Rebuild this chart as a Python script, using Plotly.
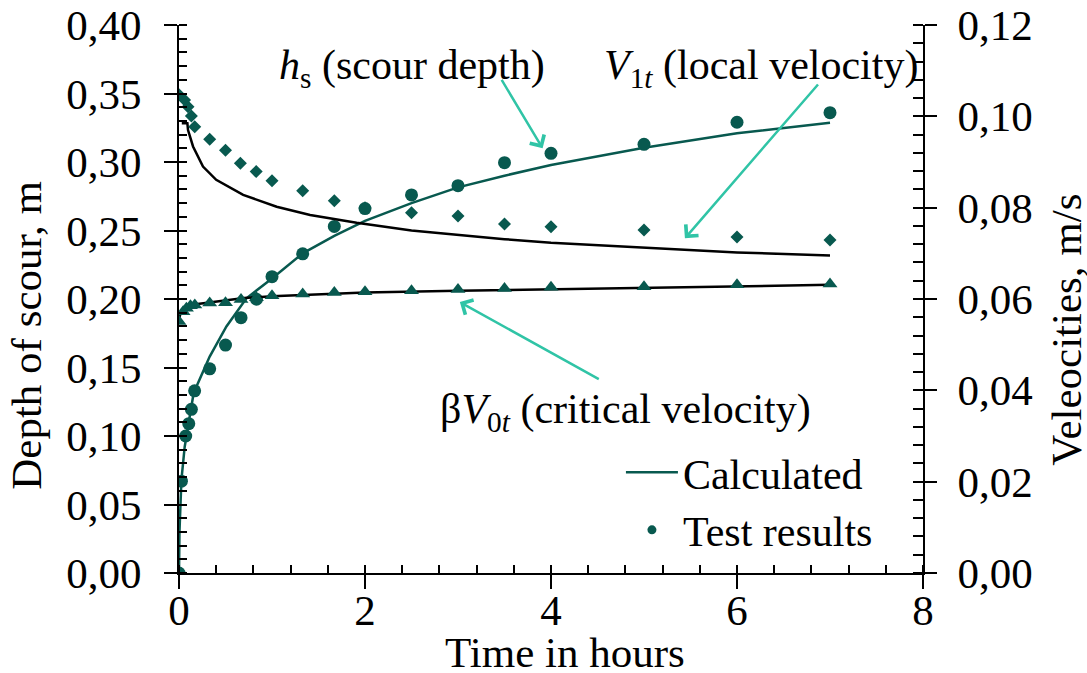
import plotly.graph_objects as go

# ---------------- data ----------------
# scour depth, test results (m)
t_hs = [0, 0.026, 0.072, 0.105, 0.133, 0.168, 0.33, 0.5, 0.667, 0.833, 1.0, 1.33, 1.67,
        2.0, 2.5, 3.0, 3.5, 4.0, 5.0, 6.0, 7.0]
hs_test = [0, 0.067, 0.100, 0.109, 0.1195, 0.133, 0.149, 0.1664, 0.1864, 0.1998, 0.2163,
           0.233, 0.253, 0.266, 0.276, 0.2827, 0.2995, 0.3063, 0.3129, 0.329, 0.336]
# scour depth, calculated (m)
t_hs_calc = [0, 0.005, 0.026, 0.061, 0.1, 0.151, 0.2, 0.33, 0.51, 0.725, 1.0, 1.33, 1.67,
             2.0, 2.5, 3.0, 3.5, 4.0, 5.0, 6.0, 7.0]
hs_calc = [0, 0.03, 0.068, 0.092, 0.108, 0.1287, 0.138, 0.158, 0.18, 0.2005, 0.215, 0.2333,
           0.246, 0.257, 0.270, 0.2815, 0.290, 0.2978, 0.3104, 0.321, 0.3287]

# local velocity, test results (m/s)
t_v1 = [0, 0.06, 0.097, 0.133, 0.169, 0.33, 0.5, 0.66, 0.83, 1.0, 1.33, 1.67, 2.0, 2.5,
        3.0, 3.5, 4.0, 5.0, 6.0, 7.0]
v1_test = [0.1047, 0.1036, 0.1021, 0.1001, 0.0977, 0.0950, 0.0926, 0.0897, 0.0879, 0.0859,
           0.0837, 0.0815, 0.0800, 0.0789, 0.0782, 0.0764, 0.0758, 0.0751, 0.0736, 0.0729]
# local velocity, calculated (m/s)
t_v1_calc = [0.03, 0.09, 0.097, 0.151, 0.258, 0.40, 0.69, 1.05, 1.41, 1.91, 2.5, 3.0, 3.5,
             4.0, 5.0, 6.0, 7.0]
v1_calc = [0.0985, 0.0985, 0.0970, 0.0934, 0.0890, 0.0861, 0.0828, 0.0802, 0.0784, 0.0767,
           0.0750, 0.0740, 0.0731, 0.0723, 0.0712, 0.0702, 0.0695]

# critical velocity, test results (m/s)
t_v0 = [0, 0.044, 0.08, 0.123, 0.17, 0.33, 0.5, 0.667, 0.833, 1.0, 1.33, 1.67, 2.0, 2.5,
        3.0, 3.5, 4.0, 5.0, 6.0, 7.0]
v0_test = [0.0551, 0.0572, 0.0580, 0.0585, 0.0587, 0.0591, 0.0592, 0.0599, 0.0603, 0.0607,
           0.0611, 0.0614, 0.0616, 0.0618, 0.0621, 0.0623, 0.0626, 0.0627, 0.0631, 0.0633]
# critical velocity, calculated (m/s)
t_v0_calc = [0, 0.02, 0.05, 0.1, 0.2, 0.5, 0.7, 1.0, 1.5, 2.0, 3.0, 4.0, 5.0, 6.0, 7.0]
v0_calc = [0.0555, 0.0572, 0.0580, 0.0585, 0.0589, 0.0597, 0.0602, 0.0606, 0.0610, 0.0614,
           0.0618, 0.0621, 0.0625, 0.0628, 0.0631]

x_ticks = [0, 2, 4, 6, 8]

# ---------------- style ----------------
TEAL = "#08594F"
ARROW = "#30C4A6"
FONT = "Liberation Serif, Times New Roman, serif"
FS_TICK = 43
FS_LAB = 42

fig = go.Figure()

fig.add_trace(go.Scatter(x=t_hs_calc, y=hs_calc, mode="lines",
                         line=dict(color=TEAL, width=2.5), showlegend=False))
fig.add_trace(go.Scatter(x=t_v1_calc, y=v1_calc, mode="lines", yaxis="y2",
                         line=dict(color="black", width=2.5), showlegend=False))
fig.add_trace(go.Scatter(x=t_v0_calc, y=v0_calc, mode="lines", yaxis="y2",
                         line=dict(color="black", width=2.5), showlegend=False))
fig.add_trace(go.Scatter(x=t_v1, y=v1_test, mode="markers", yaxis="y2",
                         marker=dict(symbol="diamond", size=10, color=TEAL), showlegend=False))
fig.add_trace(go.Scatter(x=t_v0, y=v0_test, mode="markers", yaxis="y2",
                         marker=dict(symbol="triangle-up", size=13, color=TEAL), showlegend=False))
fig.add_trace(go.Scatter(x=t_hs, y=hs_test, mode="markers",
                         marker=dict(symbol="circle", size=13, color=TEAL), showlegend=False))

# legend entries
fig.add_trace(go.Scatter(x=[None], y=[None], mode="lines", name="Calculated",
                         line=dict(color=TEAL, width=2.5)))
fig.add_trace(go.Scatter(x=[None], y=[None], mode="markers", name="Test results",
                         marker=dict(symbol="circle", size=9, color=TEAL)))

# helper traces for tick overlays
fig.add_trace(go.Scatter(x=[None], y=[None], xaxis="x2", yaxis="y3", showlegend=False))
fig.add_trace(go.Scatter(x=[None], y=[None], xaxis="x2", yaxis="y4", showlegend=False))

tickfont = dict(family=FONT, size=FS_TICK, color="black")

fig.update_layout(
    width=1087, height=673,
    margin=dict(l=179, r=164, t=25, b=100, autoexpand=False),
    paper_bgcolor="white", plot_bgcolor="white",
    separators=", ",
    font=dict(family=FONT, size=FS_LAB, color="black"),
    xaxis=dict(range=[0, 8], tickvals=x_ticks, ticks="outside", ticklen=14, tickwidth=1.5,
               tickcolor="black", showline=True, linecolor="black", linewidth=2,
               showgrid=False, zeroline=False, tickfont=tickfont, ticklabelstandoff=-16,
               automargin=False,
               minor=dict(ticks="inside", dtick=0.4, ticklen=8, tickwidth=1.5,
                          tickcolor="black", showgrid=False)),
    xaxis2=dict(range=[0, 8], overlaying="x", anchor="y3", tickvals=x_ticks, ticks="inside",
                ticklen=6, tickwidth=1.5, tickcolor="black", showticklabels=False,
                showline=False, showgrid=False, zeroline=False, automargin=False),
    yaxis=dict(range=[0, 0.4], dtick=0.05, tickformat=".2f", ticks="outside", ticklen=13,
               tickwidth=1.5, tickcolor="black", showline=True, linecolor="black",
               linewidth=2, showgrid=False, zeroline=False, tickfont=tickfont,
               ticklabelstandoff=14, automargin=False,
               minor=dict(ticks="inside", dtick=0.01, ticklen=8, tickwidth=1.5,
                          tickcolor="black", showgrid=False)),
    yaxis2=dict(range=[0, 0.12], dtick=0.02, tickformat=".2f", overlaying="y", side="right",
                anchor="x", ticks="outside", ticklen=12, tickwidth=1.5, tickcolor="black",
                showline=True, linecolor="black", linewidth=2, showgrid=False,
                zeroline=False, tickfont=tickfont, ticklabelstandoff=12, automargin=False,
                minor=dict(ticks="inside", dtick=0.004, ticklen=10, tickwidth=1.5,
                           tickcolor="black", showgrid=False)),
    yaxis3=dict(range=[0, 0.4], dtick=0.05, overlaying="y", side="left", anchor="x2",
                ticks="inside", ticklen=8, tickwidth=1.5, tickcolor="black",
                showticklabels=False, showline=False, showgrid=False, zeroline=False,
                automargin=False),
    yaxis4=dict(range=[0, 0.12], dtick=0.02, overlaying="y", side="right", anchor="x2",
                ticks="inside", ticklen=10, tickwidth=1.5, tickcolor="black",
                showticklabels=False, showline=False, showgrid=False, zeroline=False,
                automargin=False),
    legend=dict(x=0.594, y=0.2455, xanchor="left", yanchor="top", bgcolor="rgba(0,0,0,0)",
                font=dict(family=FONT, size=FS_LAB, color="black"), itemwidth=52,
                tracegroupgap=0),
    showlegend=True,
)

# annotations: labels and arrows (data coords)
labels = [
    ("<i>h</i><sub>s</sub> (scour depth)", 1.052, 0.3686),
    ("<i>V</i><sub>1<i>t</i></sub> (local velocity)", 4.55, 0.3686),
    ("β<i>V</i><sub>0<i>t</i></sub> (critical velocity)", 2.785, 0.1175),
]
for txt, x, y in labels:
    fig.add_annotation(text=txt, x=x, y=y, xref="x", yref="y", xanchor="left",
                       yanchor="middle", showarrow=False,
                       font=dict(family=FONT, size=FS_LAB, color="black"))

arrows = [
    (3.46, 0.361, 3.91, 0.310),
    (6.885, 0.3577, 5.44, 0.2443),
    (4.53, 0.1409, 3.02, 0.1978),
]
for x0, y0, x1, y1 in arrows:
    fig.add_annotation(x=x1, y=y1, ax=x0, ay=y0, xref="x", yref="y", axref="x", ayref="y",
                       text="", showarrow=True, arrowhead=4, arrowsize=1.3,
                       arrowwidth=2.5, arrowcolor=ARROW)

# axis titles
title_font = dict(family=FONT, size=FS_TICK, color="black")
fig.add_annotation(text="Time in hours", x=0.519, y=-0.1442, xref="paper", yref="paper",
                   xanchor="center", yanchor="middle", showarrow=False, font=title_font)
fig.add_annotation(text="Depth of scour, m", x=-0.2049, y=0.434, xref="paper",
                   yref="paper", xanchor="center", yanchor="middle", textangle=-90,
                   showarrow=False, font=title_font)
fig.add_annotation(text="Veleocities, m/s", x=1.193, y=0.443, xref="paper", yref="paper",
                   xanchor="center", yanchor="middle", textangle=-90, showarrow=False,
                   font=title_font)

fig.write_html("out.html")
